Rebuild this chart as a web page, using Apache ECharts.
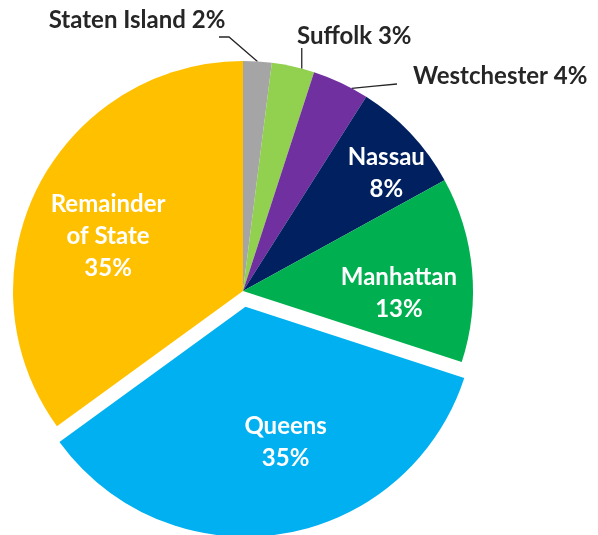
<!DOCTYPE html>
<html>
<head>
<meta charset="utf-8">
<script src="https://cdn.jsdelivr.net/npm/echarts@6/dist/echarts.min.js"></script>
<style>
html,body{margin:0;padding:0;background:#fff;}
#chart{width:598px;height:535px;}
</style>
</head>
<body>
<div id="chart"></div>
<script>
// ---- data ----
const categories = ['Staten Island', 'Suffolk', 'Westchester', 'Nassau', 'Manhattan', 'Queens', 'Remainder of State'];
const shares = [2, 3, 4, 8, 13, 35, 35];
const explodedCategory = 'Queens';

// ---- styles ----
const colors = ['#A5A5A5', '#92D050', '#7030A0', '#002060', '#00B050', '#00B0F0', '#FFC000'];
const insideNames = {'Nassau': 'Nassau', 'Manhattan': 'Manhattan', 'Queens': 'Queens', 'Remainder of State': 'Remainder\nof State'};
// label placement in polar terms: fraction of radius, angular shift (deg) from slice mid-angle
const insidePlacement = {
  'Nassau': {f: 0.794, d: 3.8},
  'Manhattan': {f: 0.665, d: 6.5},
  'Queens': {f: 0.60, d: -7.7},
  'Remainder of State': {f: 0.62, d: -5}
};
const outsideLayout = {
  'Staten Island': {x: 137, y: 20, align: 'center', startShift: 0, bend: [229, 37], end: [219, 37]},
  'Suffolk': {x: 297, y: 36, align: 'left', startShift: 2.2, vertical: true, endY: 48},
  'Westchester': {x: 413, y: 76, align: 'left', startShift: 3, straight: true, end: [397, 84]}
};
const FONT = 'Lato';
const FONT_SIZE = 24;
const CX = 243, CY = 291, R = 230;
const EXPLODE = 16;

const total = shares.reduce((a, b) => a + b, 0);
const midAngles = [];
let cum = 0;
shares.forEach(v => { midAngles.push((cum + v / 2) / total * 360); cum += v; });
const rad = a => a * Math.PI / 180;

const data = categories.map((name, i) => {
  const mid = rad(midAngles[i]);
  const item = {name: name, value: shares[i], itemStyle: {color: colors[i]}};
  if (name === explodedCategory) item.selected = true;
  if (insideNames[name]) {
    const P = insidePlacement[name];
    const a = mid + rad(P.d);
    const off = [
      P.f * R * Math.sin(a) - 0.5 * R * Math.sin(mid),
      -P.f * R * Math.cos(a) + 0.5 * R * Math.cos(mid)
    ];
    const lab = {
      position: 'inside',
      color: '#ffffff',
      lineHeight: 32,
      offset: off,
      formatter: insideNames[name] + '\n' + shares[i] + '%'
    };
    item.label = lab;
    item.select = {label: {offset: off}};
    item.labelLine = {show: false};
  }
  return item;
});

const arcPoint = deg => [CX + R * Math.sin(rad(deg)), CY - R * Math.cos(rad(deg))];

const chart = echarts.init(document.getElementById('chart'), null, {renderer: 'canvas'});
chart.setOption({
  animation: false,
  series: [{
    type: 'pie',
    center: [CX, CY],
    radius: [0, R],
    startAngle: 90,
    clockwise: true,
    selectedMode: 'single',
    selectedOffset: EXPLODE,
    avoidLabelOverlap: false,
    data: data,
    itemStyle: {borderWidth: 0},
    select: {itemStyle: {borderWidth: 0}},
    emphasis: {disabled: true},
    label: {
      show: true,
      position: 'outside',
      fontFamily: FONT,
      fontWeight: 'bold',
      fontSize: FONT_SIZE,
      color: '#262626',
      formatter: p => p.name + ' ' + p.value + '%'
    },
    labelLine: {show: true, lineStyle: {color: '#262626', width: 1.3}},
    labelLayout: function (p) {
      const name = categories[p.dataIndex];
      const L = outsideLayout[name];
      if (!L) return {};
      const start = arcPoint(midAngles[p.dataIndex] + L.startShift);
      let line;
      if (L.vertical) {
        line = [start, [start[0], (start[1] + L.endY) / 2], [start[0], L.endY]];
      } else if (L.straight) {
        line = [start, [(start[0] + L.end[0]) / 2, (start[1] + L.end[1]) / 2], L.end];
      } else {
        line = [start, L.bend, L.end];
      }
      return {x: L.x, y: L.y, align: L.align, verticalAlign: 'middle', labelLinePoints: line};
    }
  }]
});
</script>
</body>
</html>
